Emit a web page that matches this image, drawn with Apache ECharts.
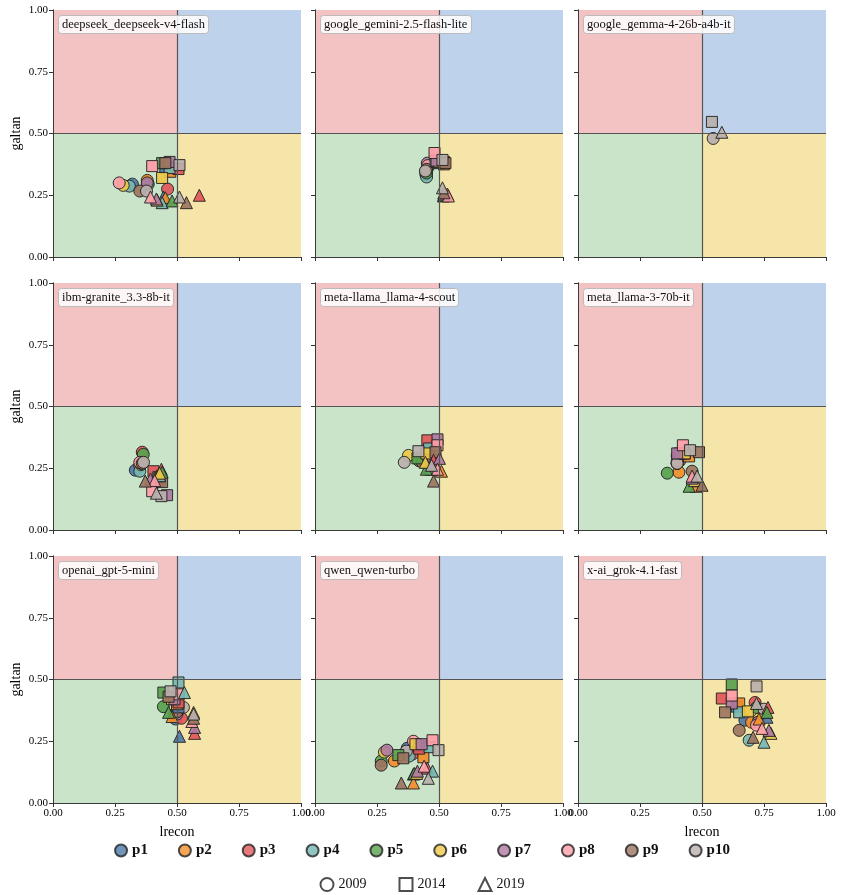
<!DOCTYPE html>
<html>
<head>
<meta charset="utf-8">
<script src="https://cdn.jsdelivr.net/npm/echarts@6/dist/echarts.min.js"></script>
<style>
  html, body { margin: 0; padding: 0; background: #fff; }
  #chart { width: 844px; height: 895px; }
</style>
</head>
<body>
<div id="chart"></div>
<script>
// personas p1..p10 and survey years
const personas = ['p1', 'p2', 'p3', 'p4', 'p5', 'p6', 'p7', 'p8', 'p9', 'p10'];
const years = ['2009', '2014', '2019'];
const tickLabels = ['0.00', '0.25', '0.50', '0.75', '1.00'];
const models = [
  'deepseek_deepseek-v4-flash', 'google_gemini-2.5-flash-lite', 'google_gemma-4-26b-a4b-it',
  'ibm-granite_3.3-8b-it', 'meta-llama_llama-4-scout', 'meta_llama-3-70b-it',
  'openai_gpt-5-mini', 'qwen_qwen-turbo', 'x-ai_grok-4.1-fast'
];

// [lrecon, galtan] per persona, one array per model and year
const deepseek2009 = [[0.32,0.295],[0.38,0.31],[0.462,0.275],[0.308,0.287],[0.384,0.295],[0.283,0.29],[0.38,0.30],[0.267,0.30],[0.35,0.267],[0.377,0.267]];
const deepseek2014 = [[0.453,0.36],[0.473,0.345],[0.506,0.356],[0.47,0.36],[0.44,0.38],[0.44,0.32],[0.47,0.385],[0.40,0.368],[0.453,0.38],[0.51,0.372]];
const deepseek2019 = [[0.445,0.243],[0.453,0.24],[0.59,0.25],[0.44,0.22],[0.48,0.227],[0.42,0.23],[0.417,0.235],[0.393,0.243],[0.538,0.22],[0.51,0.243]];

const gemini2009 = [[0.447,0.335],[0.45,0.345],[0.457,0.365],[0.45,0.324],[0.45,0.34],[0.45,0.35],[0.453,0.38],[0.455,0.37],[0.45,0.355],[0.445,0.348]];
const gemini2014 = [[0.49,0.385],[0.52,0.375],[0.52,0.385],[0.486,0.389],[0.50,0.38],[0.50,0.385],[0.49,0.39],[0.482,0.421],[0.526,0.38],[0.514,0.393]];
const gemini2019 = [[0.52,0.25],[0.525,0.25],[0.534,0.255],[0.518,0.247],[0.52,0.25],[0.52,0.26],[0.52,0.255],[0.538,0.247],[0.52,0.26],[0.514,0.28]];

const gemma2009 = [null,null,null,null,null,null,null,null,null,[0.545,0.48]];
const gemma2014 = [null,null,null,null,null,null,null,null,null,[0.54,0.547]];
const gemma2019 = [null,null,null,null,null,null,null,null,null,[0.58,0.505]];

const granite2009 = [[0.332,0.242],[0.35,0.26],[0.36,0.315],[0.35,0.238],[0.364,0.306],[0.355,0.265],[0.355,0.27],[0.35,0.274],[0.36,0.27],[0.365,0.274]];
const granite2014 = [[0.42,0.20],[0.42,0.21],[0.405,0.238],[0.43,0.20],[0.425,0.214],[0.43,0.21],[0.46,0.141],[0.40,0.157],[0.44,0.194],[0.437,0.137]];
const granite2019 = [[0.42,0.22],[0.43,0.22],[0.437,0.246],[0.43,0.22],[0.44,0.234],[0.43,0.23],[0.393,0.206],[0.41,0.20],[0.372,0.198],[0.417,0.149]];

const scout2009 = [[0.43,0.28],[0.43,0.28],[0.477,0.286],[0.43,0.28],[0.42,0.28],[0.377,0.302],[0.44,0.29],[0.44,0.28],[0.433,0.274],[0.36,0.274]];
const scout2014 = [[0.46,0.33],[0.46,0.33],[0.453,0.363],[0.46,0.33],[0.413,0.29],[0.449,0.31],[0.494,0.367],[0.494,0.343],[0.486,0.315],[0.417,0.319]];
const scout2019 = [[0.46,0.25],[0.51,0.238],[0.478,0.282],[0.47,0.246],[0.449,0.246],[0.445,0.274],[0.502,0.29],[0.494,0.246],[0.478,0.198],[0.47,0.262]];

const llama2009 = [[0.40,0.27],[0.407,0.234],[0.41,0.28],[0.40,0.27],[0.36,0.23],[0.40,0.27],[0.40,0.30],[0.40,0.28],[0.46,0.238],[0.40,0.27]];
const llama2014 = [[0.43,0.31],[0.448,0.298],[0.43,0.31],[0.43,0.31],[0.411,0.31],[0.43,0.31],[0.40,0.31],[0.423,0.343],[0.488,0.315],[0.452,0.323]];
const llama2019 = [[0.47,0.20],[0.476,0.177],[0.47,0.20],[0.47,0.20],[0.448,0.177],[0.47,0.20],[0.46,0.21],[0.46,0.218],[0.50,0.181],[0.48,0.218]];

const gpt2009 = [[0.494,0.34],[0.49,0.36],[0.518,0.343],[0.50,0.37],[0.445,0.39],[0.50,0.37],[0.50,0.36],[0.50,0.37],[0.50,0.37],[0.526,0.387]];
const gpt2014 = [[0.506,0.387],[0.50,0.40],[0.506,0.407],[0.506,0.488],[0.445,0.447],[0.48,0.42],[0.49,0.42],[0.506,0.44],[0.466,0.43],[0.474,0.452]];
const gpt2019 = [[0.51,0.27],[0.48,0.35],[0.571,0.282],[0.53,0.447],[0.466,0.367],[0.567,0.367],[0.571,0.306],[0.56,0.33],[0.567,0.343],[0.567,0.36]];

const qwen2009 = [[0.372,0.222],[0.32,0.17],[0.393,0.198],[0.38,0.19],[0.267,0.17],[0.28,0.206],[0.29,0.214],[0.397,0.25],[0.267,0.153],[0.368,0.21]];
const qwen2014 = [[0.42,0.23],[0.437,0.185],[0.42,0.22],[0.462,0.226],[0.336,0.194],[0.405,0.238],[0.43,0.238],[0.474,0.254],[0.356,0.181],[0.498,0.214]];
const qwen2019 = [[0.397,0.117],[0.397,0.081],[0.453,0.141],[0.474,0.129],[0.40,0.12],[0.41,0.12],[0.413,0.129],[0.44,0.149],[0.348,0.081],[0.457,0.10]];

const grok2009 = [[0.673,0.335],[0.70,0.327],[0.714,0.407],[0.69,0.254],[0.72,0.387],[0.73,0.34],[0.726,0.327],[0.72,0.315],[0.65,0.294],[0.75,0.38]];
const grok2014 = [[0.64,0.39],[0.65,0.403],[0.58,0.423],[0.65,0.367],[0.62,0.48],[0.685,0.371],[0.62,0.403],[0.62,0.435],[0.593,0.367],[0.72,0.472]];
const grok2019 = [[0.762,0.347],[0.73,0.34],[0.766,0.387],[0.75,0.246],[0.762,0.367],[0.778,0.282],[0.77,0.294],[0.742,0.302],[0.706,0.266],[0.72,0.403]];

const panelData = [
  [deepseek2009, deepseek2014, deepseek2019],
  [gemini2009, gemini2014, gemini2019],
  [gemma2009, gemma2014, gemma2019],
  [granite2009, granite2014, granite2019],
  [scout2009, scout2014, scout2019],
  [llama2009, llama2014, llama2019],
  [gpt2009, gpt2014, gpt2019],
  [qwen2009, qwen2014, qwen2019],
  [grok2009, grok2014, grok2019]
];

const colors = ['#4e79a7', '#f28e2b', '#e15759', '#76b7b2', '#59a14f', '#edc948', '#b07aa1', '#ff9da7', '#9c755f', '#bab0ac'];
const yearSymbols = ['circle', 'rect', 'triangle'];
const serif = '"Liberation Serif", "DejaVu Serif", serif';

const lefts = [53, 315, 578];
const tops = [10, 283, 556];
const W = 248, H = 247;

const grid = [], xAxis = [], yAxis = [], series = [], title = [];

for (let i = 0; i < 9; i++) {
  const r = Math.floor(i / 3), c = i % 3;
  grid.push({ left: lefts[c], top: tops[r], width: W, height: H });
  const frame = { show: true, lineStyle: { color: '#3a3a3a', width: 1 } };
  xAxis.push({
    gridIndex: i, type: 'value', min: 0, max: 1, interval: 0.25, z: 10,
    axisLine: frame, splitLine: { show: false },
    axisTick: { show: true, length: 4, lineStyle: { color: '#333' } },
    axisLabel: { show: r === 2, fontFamily: serif, fontSize: 11, color: '#000', margin: 5,
      formatter: v => tickLabels[Math.round(v * 4)] },
    name: (r === 2 && c !== 1) ? 'lrecon' : '', nameLocation: 'middle', nameGap: 22,
    nameTextStyle: { fontFamily: serif, fontSize: 14, color: '#000' }
  });
  xAxis.push({
    gridIndex: i, type: 'value', min: 0, max: 1, position: 'top', z: 10,
    axisLine: frame, axisTick: { show: false }, axisLabel: { show: false }, splitLine: { show: false }
  });
  yAxis.push({
    gridIndex: i, type: 'value', min: 0, max: 1, interval: 0.25, z: 10,
    axisLine: frame, splitLine: { show: false },
    axisTick: { show: true, length: 4, lineStyle: { color: '#333' } },
    axisLabel: { show: c === 0, fontFamily: serif, fontSize: 11, color: '#000', margin: 5,
      formatter: v => tickLabels[Math.round(v * 4)] },
    name: c === 0 ? 'galtan' : '', nameLocation: 'middle', nameGap: 30,
    nameTextStyle: { fontFamily: serif, fontSize: 14, color: '#000' }
  });
  yAxis.push({
    gridIndex: i, type: 'value', min: 0, max: 1, position: 'right', z: 10,
    axisLine: frame, axisTick: { show: false }, axisLabel: { show: false }, splitLine: { show: false }
  });

  // quadrant backgrounds and 0.5 divider lines
  series.push({
    type: 'scatter', xAxisIndex: 2 * i, yAxisIndex: 2 * i, data: [], silent: true, z: 1,
    markArea: {
      silent: true,
      data: [
        [{ coord: [0, 0.5], itemStyle: { color: '#f3c3c3' } }, { coord: [0.5, 1] }],
        [{ coord: [0.5, 0.5], itemStyle: { color: '#bfd2eb' } }, { coord: [1, 1] }],
        [{ coord: [0, 0], itemStyle: { color: '#c9e4c8' } }, { coord: [0.5, 0.5] }],
        [{ coord: [0.5, 0], itemStyle: { color: '#f6e5a9' } }, { coord: [1, 0.5] }]
      ]
    },
    markLine: {
      silent: true, symbol: 'none', label: { show: false },
      lineStyle: { color: '#555', width: 1.2, type: 'solid' },
      data: [{ xAxis: 0.5 }, { yAxis: 0.5 }]
    }
  });

  panelData[i].forEach((pts, yi) => {
    const data = [];
    pts.forEach((p, pi) => {
      if (p) data.push({ value: p, itemStyle: { color: colors[pi] } });
    });
    series.push({
      type: 'scatter', name: models[i] + ' ' + years[yi],
      xAxisIndex: 2 * i, yAxisIndex: 2 * i, z: 3,
      symbol: yearSymbols[yi], symbolSize: yi === 1 ? 11 : 12,
      itemStyle: { borderColor: '#222', borderWidth: 1, opacity: 0.92 },
      data: data
    });
  });

  title.push({
    text: models[i], left: lefts[c] + 5, top: tops[r] + 5,
    textStyle: { fontFamily: serif, fontSize: 12.5, fontWeight: 'normal', color: '#111' },
    backgroundColor: 'rgba(255,255,255,0.85)', borderColor: '#bbb', borderWidth: 1,
    borderRadius: 3, padding: [3, 4]
  });
}

// legend-only series
personas.forEach((p, pi) => {
  series.push({ type: 'scatter', name: p, xAxisIndex: 0, yAxisIndex: 0, data: [], symbol: 'circle',
    itemStyle: { color: colors[pi], borderColor: '#222', borderWidth: 1 } });
});
years.forEach((y, yi) => {
  series.push({ type: 'scatter', name: y, xAxisIndex: 0, yAxisIndex: 0, data: [], symbol: yearSymbols[yi],
    itemStyle: { color: '#fff', borderColor: '#222', borderWidth: 1.2 } });
});

const chart = echarts.init(document.getElementById('chart'), null, { renderer: 'canvas' });
chart.setOption({
  animation: false,
  backgroundColor: '#fff',
  title: title,
  grid: grid,
  xAxis: xAxis,
  yAxis: yAxis,
  legend: [
    { data: personas, left: 'center', top: 838, itemWidth: 12, itemHeight: 12, itemGap: 30,
      icon: 'circle', textStyle: { fontFamily: serif, fontSize: 15, fontWeight: 'bold', color: '#111' } },
    { data: years, left: 'center', top: 872, itemWidth: 13, itemHeight: 13, itemGap: 32,
      textStyle: { fontFamily: serif, fontSize: 14, color: '#111' } }
  ],
  series: series
});
</script>
</body>
</html>
